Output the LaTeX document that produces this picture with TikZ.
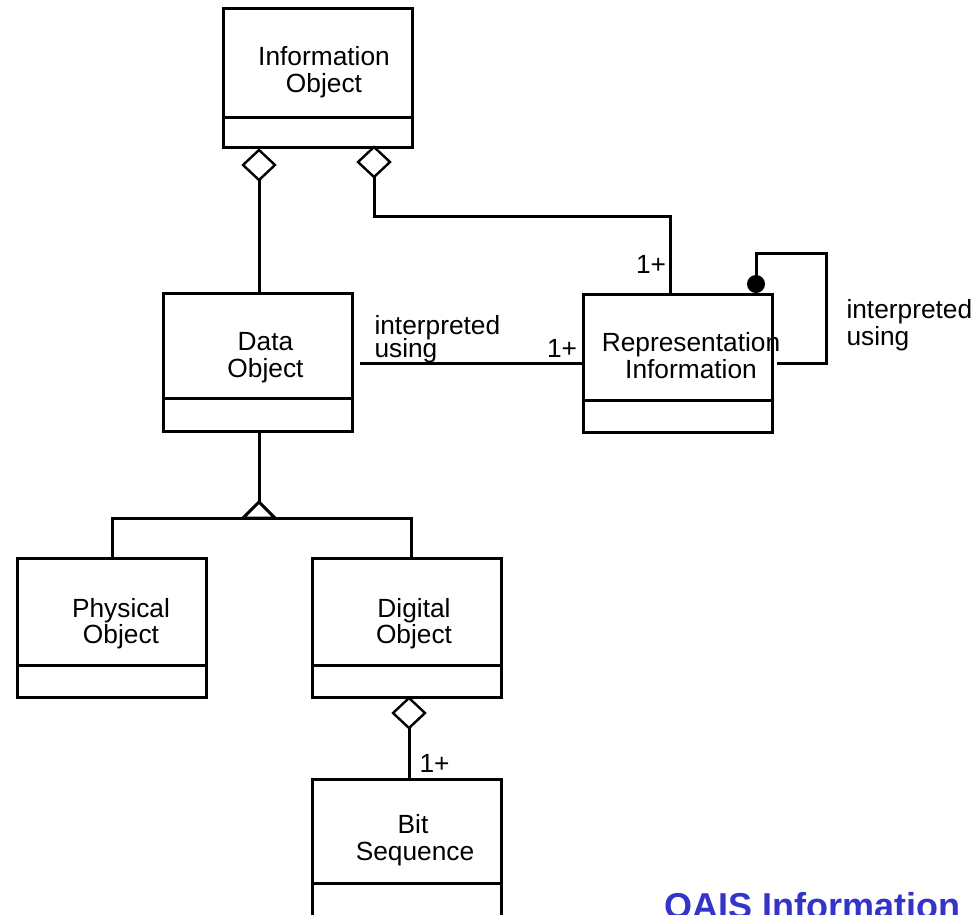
\documentclass[tikz,border=0pt]{standalone}
\usepackage{fontspec}
\setmainfont{Liberation Sans}
\usetikzlibrary{shapes.geometric}
\definecolor{titleblue}{RGB}{52,52,200}
\begin{document}
\begin{tikzpicture}[x=1pt,y=-1pt,line width=3pt,
  umlbox/.style={draw,rectangle,inner sep=0pt,outer sep=0pt,minimum width=189pt,minimum height=#1},
  umlbox/.default=139pt,
  agg/.style={draw,diamond,fill=white,inner sep=0pt,outer sep=0pt,minimum width=32pt,minimum height=30pt,line width=2.4pt},
  lbl/.style={anchor=base,inner sep=0pt,font=\fontsize{26.3}{27}\selectfont},
  lblw/.style={anchor=base west,inner sep=0pt,font=\fontsize{26.3}{27}\selectfont},
  title/.style={anchor=base west,inner sep=0pt,text=titleblue,font=\fontsize{36}{40}\selectfont\bfseries}]
\clip (0,0) rectangle (974,914);
\fill[white] (0,0) rectangle (974,914);

% boxes
\node[umlbox] (io) at (317.5,77.5) {};
\node[umlbox=138pt] (do) at (258,362.5) {};
\node[umlbox=138pt] (ri) at (678,363) {};
\node[umlbox] (po) at (112,627.5) {};
\node[umlbox] (dg) at (406.5,627.5) {};
\node[umlbox=140pt] (bs) at (406.5,849) {};

% dividers
\draw (io.west |- 0,117) -- (io.east |- 0,117);
\draw (do.west |- 0,398) -- (do.east |- 0,398);
\draw (ri.west |- 0,400) -- (ri.east |- 0,400);
\draw (po.west |- 0,665) -- (po.east |- 0,665);
\draw (dg.west |- 0,665) -- (dg.east |- 0,665);
\draw (bs.west |- 0,883) -- (bs.east |- 0,883);

% box texts
\node[lbl] (io1) at (324,65) {Information};
\node[lbl] (io2) at (324,92) {Object};
\node[lbl] (do1) at (265.5,350) {Data};
\node[lbl] (do2) at (265.5,377) {Object};
\node[lbl] (ri1) at (691,351) {Representation};
\node[lbl] (ri2) at (691,378) {Information};
\node[lbl] (po1) at (121,617) {Physical};
\node[lbl] (po2) at (121,643) {Object};
\node[lbl] (dg1) at (414,617) {Digital};
\node[lbl] (dg2) at (414,643) {Object};
\node[lbl] (bs1) at (413,833) {Bit};
\node[lbl] (bs2) at (415,860) {Sequence};

% aggregation diamonds
\node[agg] (d1) at (259,165) {};
\node[agg] (d2) at (374,162) {};
\node[agg] (d3) at (409,713) {};

% connectors
\draw (d1.south) -- (d1.south |- do.north);
\coordinate (k1) at (670,216);
\draw (d2.south) |- (k1) -- (k1 |- ri.north);
\coordinate (a1) at (360,363);
\draw (a1) -- (a1 -| ri.west);

% self association
\node[circle,fill=black,inner sep=0pt,minimum size=18pt] (dot) at (756,284) {};
\coordinate (s1) at (777,363);
\coordinate (c2) at (826,253);
\draw (s1) -| (c2) -| (dot.center);

% generalization
\coordinate (tr) at (259,502);
\coordinate (hl) at (112,518);
\coordinate (hr) at (411,518);
\draw (tr |- do.south) -- (tr);
\draw (hl |- po.north) -- (hl) -- (hr) -- (hr |- dg.north);
\draw[fill=white,line join=miter] (243,518) -- (tr) -- (275,518) -- cycle;

% digital -> bit sequence
\draw (d3.south) -- (d3.south |- bs.north);

% labels
\node[lbl] (m1) at (651,273) {1+};
\node[lbl] (m2) at (562,357) {1+};
\node[lblw] (m3) at (418,772) {1+};
\node[lblw] (u1) at (373,334) {interpreted};
\node[lblw] (u2) at (373,357) {using};
\node[lblw] (u3) at (845,318) {interpreted};
\node[lblw] (u4) at (845,345) {using};

% title
\node[title] (t) at (663,918) {OAIS Information};
\end{tikzpicture}
\end{document}
